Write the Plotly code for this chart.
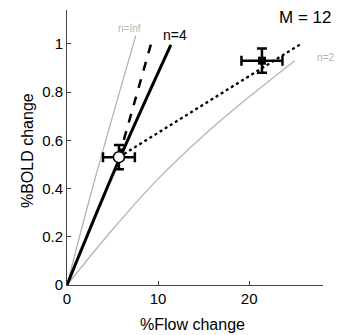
import plotly.graph_objects as go

# n = Inf curve
ninf_x = [0, 3.0, 7.56]
ninf_y = [0, 0.43, 1.035]
# n = 2 curve
n2_x = [0, 5, 10, 15, 20, 25]
n2_y = [0, 0.23, 0.44, 0.62, 0.78, 0.93]
# n = 4 curve
n4_x = [0, 5.5, 11.4]
n4_y = [0, 0.5, 0.995]
# dashed line
dash_x = [5.7, 9.3]
dash_y = [0.53, 1.01]
# dotted line
dot_x = [5.7, 25.7]
dot_y = [0.53, 1.0]
# measured points
open_x, open_y, open_ex, open_ey = [5.7], [0.53], [1.75], [0.05]
fill_x, fill_y, fill_ex, fill_ey = [21.4], [0.93], [2.25], [0.05]

x_ticks = [0, 10, 20]
y_ticks = [0, 0.2, 0.4, 0.6, 0.8, 1.0]
y_ticklabels = ["0", "0.2", "0.4", "0.6", "0.8", "1"]

FONT = "Liberation Sans, Arial, sans-serif"
GRAY = "#b4b4b4"

fig = go.Figure()
fig.add_trace(go.Scatter(x=ninf_x, y=ninf_y, mode="lines", line=dict(color=GRAY, width=1.3, shape="spline")))
fig.add_trace(go.Scatter(x=n2_x, y=n2_y, mode="lines", line=dict(color=GRAY, width=1.3, shape="spline")))
fig.add_trace(go.Scatter(x=dot_x, y=dot_y, mode="lines", line=dict(color="black", width=2.3, dash="dot")))
fig.add_trace(go.Scatter(x=n4_x, y=n4_y, mode="lines", line=dict(color="black", width=3, shape="spline")))
fig.add_trace(go.Scatter(x=dash_x, y=dash_y, mode="lines", line=dict(color="black", width=2.5, dash="dash")))
fig.add_trace(go.Scatter(x=fill_x, y=fill_y, mode="markers",
                         marker=dict(symbol="square", size=8, color="black"),
                         error_x=dict(type="data", array=fill_ex, color="black", thickness=2.5, width=5),
                         error_y=dict(type="data", array=fill_ey, color="black", thickness=2.5, width=5)))
fig.add_trace(go.Scatter(x=open_x, y=open_y, mode="markers",
                         marker=dict(symbol="circle", size=11, color="white", line=dict(color="black", width=1.5)),
                         error_x=dict(type="data", array=open_ex, color="black", thickness=2.5, width=5),
                         error_y=dict(type="data", array=open_ey, color="black", thickness=2.5, width=5)))

def note(text, x, y, size, color="black", ref="data", angle=0):
    fig.add_annotation(x=x, y=y, xref="x" if ref == "data" else "paper", yref="y" if ref == "data" else "paper",
                       text=text, showarrow=False, xanchor="center", yanchor="middle", textangle=angle,
                       font=dict(family=FONT, size=size, color=color))

note("n=Inf", 6.9, 1.063, 10, GRAY)
note("n=4", 11.8, 1.035, 14)
note("n=2", 1.008, 0.829, 10, GRAY, ref="paper")
note("M = 12", 0.93, 0.971, 17, ref="paper")
note("%Flow change", 0.492, -0.145, 16, ref="paper")
note("%BOLD change", -0.157, 0.49, 16, ref="paper", angle=-90)

axis_common = dict(showgrid=False, zeroline=False, showline=True, linecolor="#444444", linewidth=1,
                   ticks="inside", ticklen=4, tickcolor="#444444", automargin=False,
                   tickfont=dict(family=FONT, size=15, color="black"))
fig.update_xaxes(range=[0, 28.1], tickvals=x_ticks, ticktext=[str(v) for v in x_ticks], **axis_common)
fig.update_yaxes(range=[0, 1.14], tickvals=y_ticks, ticktext=y_ticklabels, **axis_common)
fig.update_layout(width=337, height=335, margin=dict(l=67, r=14, t=10, b=50),
                  plot_bgcolor="white", paper_bgcolor="white", showlegend=False)
fig.write_html("out.html", config={"displayModeBar": False},
               post_script="document.body.style.margin='0';document.body.style.overflow='hidden';")
